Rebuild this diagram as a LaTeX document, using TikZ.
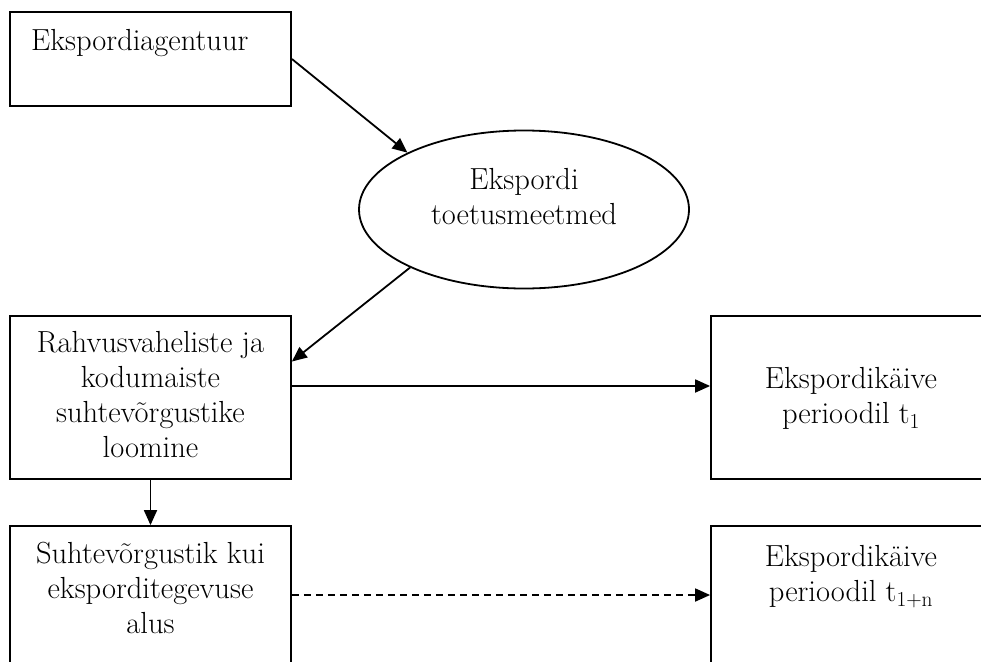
\documentclass[tikz,border=0pt]{standalone}
\usetikzlibrary{arrows.meta,shapes.geometric}
\begin{document}
\begin{tikzpicture}[x=1pt,y=-1pt,
  every node/.style={font=\fontsize{30.5}{35}\selectfont},
  box/.style={draw,line width=1.8pt,minimum width=281pt,inner sep=0pt},
  txt/.style={inner sep=0pt,align=center,anchor=base},
  conn/.style={line width=1.8pt,-{Triangle[length=15pt,width=13pt]}}]
\useasboundingbox (0,0) rectangle (981,661);
\clip (0,0) rectangle (981,661);
% boxes
\node[box,minimum height=94pt] (b1) at (150.5,59) {};
\node[draw,line width=1.8pt,ellipse,minimum width=330pt,minimum height=158pt,inner sep=0pt] (ell) at (524,209.5) {};
\node[box,minimum height=163pt] (b3) at (150.5,397.5) {};
\node[box,minimum height=163pt] (b4) at (150.5,607.5) {};
\node[box,minimum height=163pt] (b5) at (851.5,397.5) {};
\node[box,minimum height=163pt] (b6) at (851.5,607.5) {};
% texts (anchor = baseline of last line)
\node[inner sep=0pt,anchor=base west] (t1) at (31,51) {Ekspordiagentuur};
\node[txt] (t2) at (524,224) {Ekspordi\\toetusmeetmed};
\node[txt] (t3) at (150.5,457) {Rahvusvaheliste ja\\kodumaiste\\suhtevõrgustike\\loomine};
\node[txt] (t4) at (150.5,633) {Suhtevõrgustik kui\\eksporditegevuse\\alus};
\node[txt] (t5) at (851,423) {Ekspordikäive\\perioodil t\textsubscript{1}};
\node[txt] (t6) at (851,601) {Ekspordikäive\\perioodil t\textsubscript{1+n}};
% connectors
\draw[conn] (b1.east) -- (ell.154);
\draw[conn] (ell.207) -- ([yshift=36pt]b3.east);
\draw[conn] ([yshift=11.5pt]b3.east) -- ([yshift=11.5pt]b5.west);
\draw[conn] (b3.south) -- (b4.north);
\draw[conn,dash pattern=on 7pt off 5pt] ([yshift=12.5pt]b4.east) -- ([yshift=12.5pt]b6.west);
\end{tikzpicture}
\end{document}
